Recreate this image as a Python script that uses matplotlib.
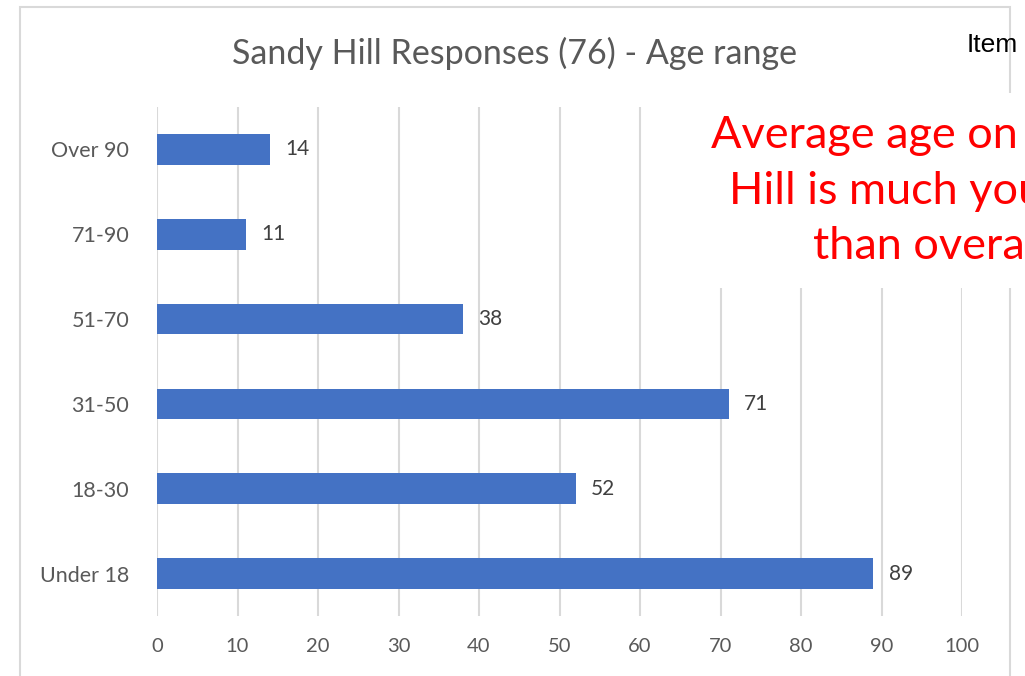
import numpy as np
import matplotlib
matplotlib.use("Agg")
from matplotlib import pyplot as plt
from matplotlib.patches import Rectangle

categories = ["Under 18", "18-30", "31-50", "51-70", "71-90", "Over 90"]
counts = [89, 52, 71, 38, 11, 14]
xticks = list(range(0, 101, 10))

title = "Sandy Hill Responses (76) - Age range"
note = "Average age on Sandy\nHill is much younger\nthan overall"

plt.rcParams["font.family"] = ["Lato", "DejaVu Sans"]
grey = "#595959"
grid_col = "#D9D9D9"

fig = plt.figure(figsize=(10.25, 6.76), dpi=100)
ax = fig.add_axes([157 / 1025, 1 - 616 / 676, (962 - 157) / 1025, (616 - 107) / 676])

y = np.arange(len(categories))
ax.barh(y, counts, height=0.36, color="#4472C4", zorder=3)
for yi, v in zip(y, counts):
    ax.annotate(str(v), (v, yi), xytext=(11, 0), textcoords="offset points",
                va="center", ha="left", fontsize=15, color="#404040")

ax.set_xlim(0, 100)
ax.set_ylim(-0.5, len(categories) - 0.5)
ax.set_xticks(xticks)
ax.set_yticks(y)
ax.set_yticklabels(categories)
ax.tick_params(axis="both", length=0, labelsize=14.5, labelcolor=grey)
ax.tick_params(axis="y", labelsize=15.5, pad=20)
ax.tick_params(axis="x", pad=16)
ax.grid(axis="x", color=grid_col, linewidth=1.5, zorder=0)
for s in ax.spines.values():
    s.set_visible(False)

# outer chart border
fig.patches.append(Rectangle((20 / 1025, -0.05), 990 / 1025, 1.05 - 7 / 676,
                             transform=fig.transFigure, fill=False,
                             edgecolor=grid_col, linewidth=1.5, zorder=1))

fig.text(515 / 1025, 1 - 53 / 676, title, ha="center", va="center",
         fontsize=24.5, color=grey)

fig.text(967 / 1025, 1 - 45 / 676, "Item", ha="left", va="center",
         fontsize=19, color="black", family=["Liberation Sans", "DejaVu Sans"])

# white box with red comment, cut off by the right edge
fig.patches.append(Rectangle((680 / 1025, 1 - 288 / 676), 400 / 1025, 195 / 676,
                             transform=fig.transFigure, facecolor="white",
                             edgecolor="none", zorder=5))
fig.text(930 / 1025, 1 - 191 / 676, note, ha="center", va="center",
         multialignment="center", fontsize=32.5, color="#FF0000", zorder=6,
         linespacing=1.45)

fig.savefig("out.png", dpi=100)
